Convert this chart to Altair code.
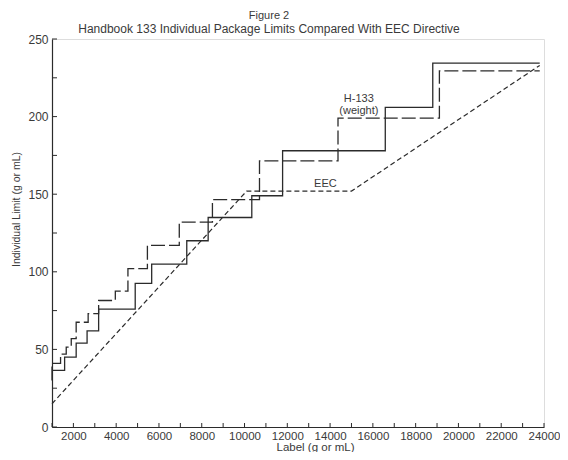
import altair as alt
import pandas as pd

# ---- data ----
# Handbook 133 (weight) - solid step line (level starts at each x)
weight_x = [1000, 1590, 2130, 2640, 3180, 4890, 5660, 7300, 8300, 10340, 11780, 16580, 18800, 23800]
weight_y = [36.5, 45, 54, 62, 76, 92.5, 105, 120, 135, 149, 178, 206, 234.5, 234.5]

# Handbook 133 (long-dashed) step line
vol_x = [1000, 1000, 1400, 1665, 1900, 2130, 2690, 3180, 3960, 4550, 5460, 6950, 8500, 10700, 14370, 19110, 23800]
vol_y = [30, 41, 47, 51.5, 57, 67.5, 73, 81.5, 87.5, 102, 117, 132, 146.5, 171.5, 199, 229.5, 229.5]

# EEC directive - short-dashed line
eec_x = [1000, 10100, 15000, 23800]
eec_y = [15, 152, 152, 233]

# annotations
ann_text = ["H-133", "(weight)", "EEC"]
ann_x = [15345, 15345, 13780]
ann_y = [211.3, 203.4, 156.7]

# axis ticks / labels
x_label_vals = list(range(2000, 24001, 2000))
x_tick_vals = list(range(1000, 24001, 1000))
y_vals = list(range(0, 251, 25))

FONT = "Liberation Sans"
INK = "#2b2b2b"
TXT = "#3a3a3a"

W, H = 492, 388

xscale = alt.Scale(domain=[1000, 24000], nice=False, zero=False)
yscale = alt.Scale(domain=[0, 250], nice=False, zero=True)

xaxis = alt.Axis(values=x_label_vals, ticks=False, grid=False, labelPadding=3, format="d",
                 labelFontSize=11.5, labelColor=TXT, labelFont=FONT,
                 domainColor=INK, domainWidth=1.2,
                 title="Label (g or mL)", titleFontSize=11.5, titleFontWeight="normal",
                 titleColor=TXT, titleFont=FONT, titleX=263, titleY=25,
                 titleBaseline="bottom", titleAnchor="start", titleAlign="center",
                 labelFlush=False, labelOverlap=False)
yaxis = alt.Axis(values=y_vals, ticks=False, grid=False, labelPadding=4, format="d",
                 labelFontSize=12, labelColor=TXT, labelFont=FONT,
                 domainColor=INK, domainWidth=1.2,
                 title="Individual Limit (g or mL)", titleFontSize=10.5, titleFontWeight="normal",
                 titleColor=TXT, titleFont=FONT, titleX=-36, titleY=170,
                 titleBaseline="middle", titleAlign="center", titleAngle=-90,
                 labelFlush=False, labelOverlap=False)

X = alt.X("x:Q", scale=xscale, axis=xaxis)
Y = alt.Y("y:Q", scale=yscale, axis=yaxis)

df_w = pd.DataFrame({"x": weight_x, "y": weight_y, "i": range(len(weight_x))})
df_v = pd.DataFrame({"x": vol_x, "y": vol_y, "i": range(len(vol_x))})
df_e = pd.DataFrame({"x": eec_x, "y": eec_y, "i": range(len(eec_x))})
df_a = pd.DataFrame({"x": ann_x, "y": ann_y, "t": ann_text})

weight = alt.Chart(df_w).mark_line(interpolate="step-after", color=INK, strokeWidth=1.3).encode(
    x=X, y=Y, order="i:Q")
vol = alt.Chart(df_v).mark_line(interpolate="step-after", color=INK, strokeWidth=1.3,
                                strokeDash=[14, 4]).encode(x=X, y=Y, order="i:Q")
eec = alt.Chart(df_e).mark_line(color=INK, strokeWidth=1.2, strokeDash=[5, 3]).encode(
    x=X, y=Y, order="i:Q")
ann = alt.Chart(df_a).mark_text(font=FONT, fontSize=11, color=TXT, align="center",
                                baseline="middle").encode(x=X, y=Y, text="t:N")

xt = alt.Chart(pd.DataFrame({"x": x_tick_vals})).mark_rule(color=INK, strokeWidth=1).encode(
    x=X, y=alt.datum(0), y2=alt.value(H - 4))
yt = alt.Chart(pd.DataFrame({"y": y_vals})).mark_rule(color=INK, strokeWidth=1).encode(
    y=Y, x=alt.datum(1000), x2=alt.value(5))

chart = alt.layer(eec, vol, weight, xt, yt, ann).properties(
    width=W, height=H,
    padding={"left": 44, "top": 31, "right": 16, "bottom": 25},
    autosize=alt.AutoSizeParams(type="none"),
    title=alt.TitleParams(
        text="Figure 2",
        subtitle="Handbook 133 Individual Package Limits Compared With EEC Directive",
        fontSize=11, fontWeight="normal", font=FONT, color=TXT,
        subtitleFontSize=12, subtitleFont=FONT, subtitleColor=TXT,
        subtitlePadding=3, anchor="middle", dx=-29, dy=9, offset=7),
).configure_view(stroke=None).configure(font=FONT, background="white")

chart.save("out.html", embed_options={"renderer": "svg", "actions": False})
